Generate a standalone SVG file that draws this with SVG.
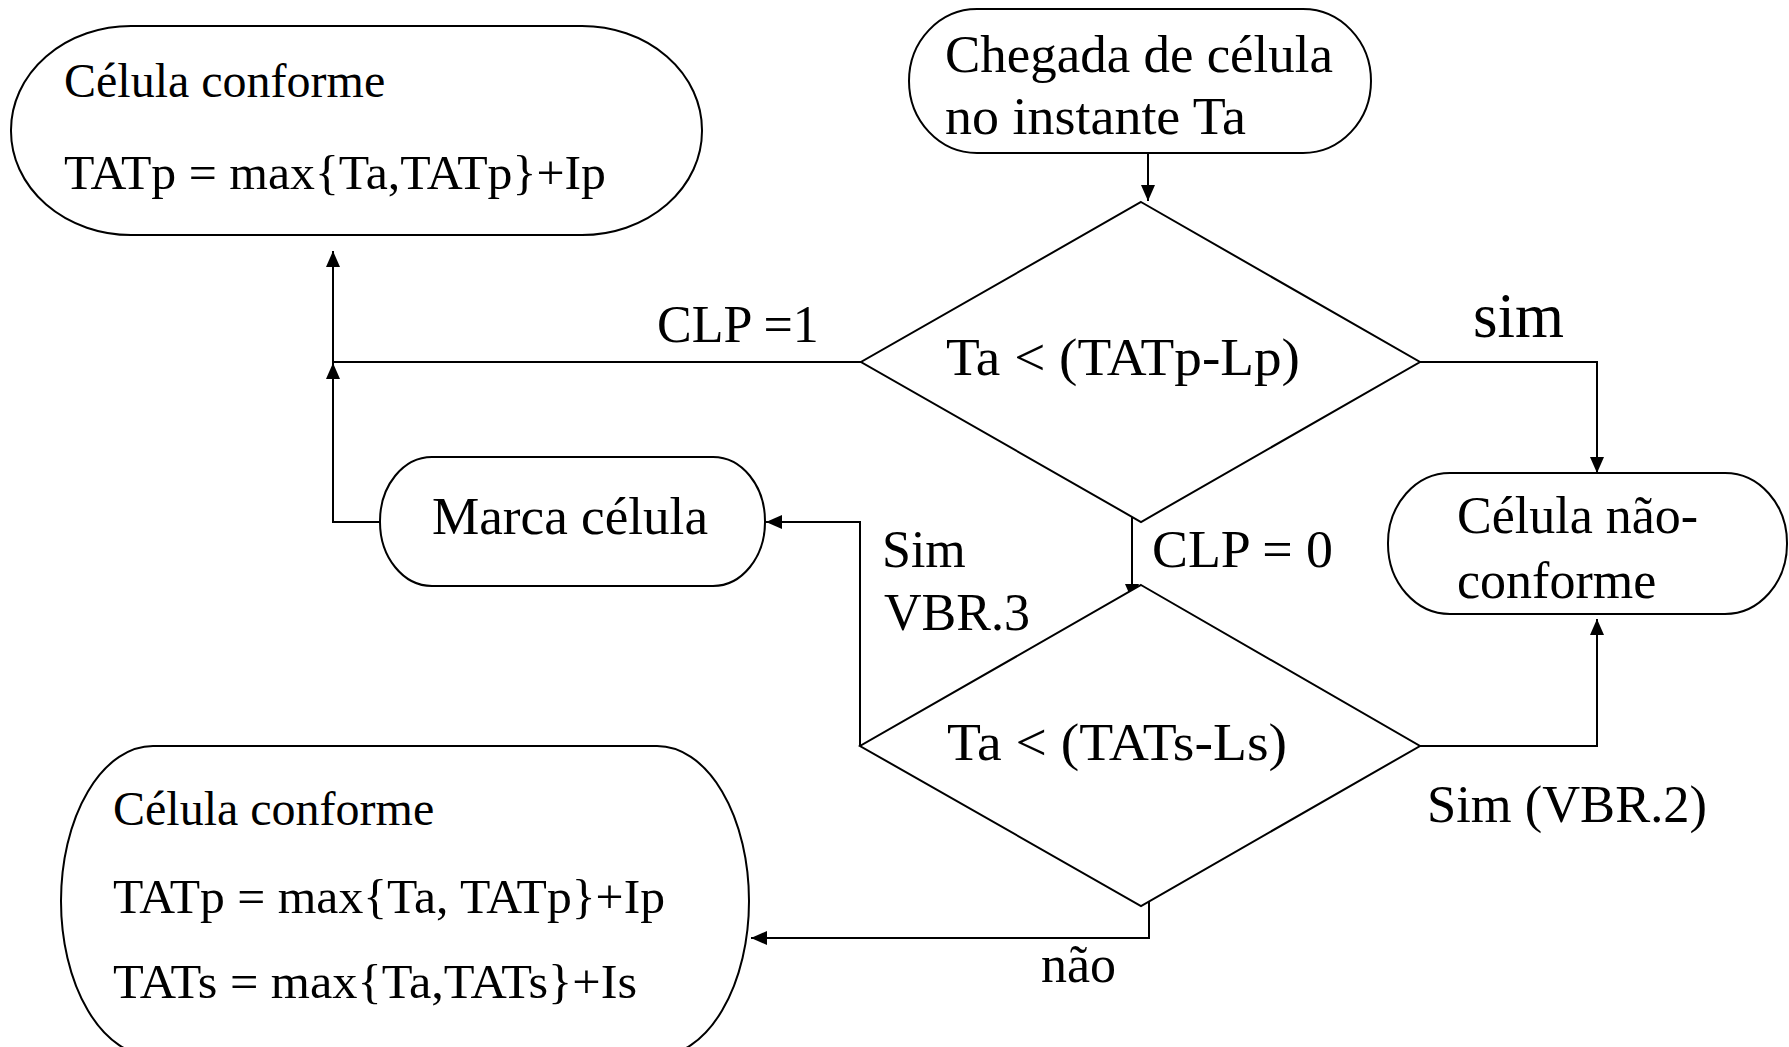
<svg xmlns="http://www.w3.org/2000/svg" width="1789" height="1047" viewBox="0 0 1789 1047">
  <style>
    .node { fill: #ffffff; stroke: #000000; stroke-width: 2; }
    .dec { fill: #ffffff; stroke: #000000; stroke-width: 2; }
    .edge { fill: none; stroke: #000000; stroke-width: 2; }
    text { font-family: "Liberation Serif", "Times New Roman", serif; fill: #000000; }
    .t48 { font-size: 48px; }
    .t52 { font-size: 52px; }
    .t63 { font-size: 63px; }
  </style>
  <defs>
    <marker id="arrow" viewBox="0 0 16 14" refX="16" refY="7" markerWidth="16" markerHeight="14" markerUnits="userSpaceOnUse" orient="auto">
      <path d="M0,0 L16,7 L0,14 Z" fill="#000000"/>
    </marker>
  </defs>

  <rect width="1789" height="1047" fill="#ffffff"/>

  <!-- connectors -->
  <g id="connectors">
    <path class="edge" d="M1148,153 V201" marker-end="url(#arrow)"/>
    <path class="edge" d="M861,362 H333 V251" marker-end="url(#arrow)"/>
    <path class="edge" d="M380,522 H333 V363" marker-end="url(#arrow)"/>
    <path class="edge" d="M1420,362 H1597 V473" marker-end="url(#arrow)"/>
    <path class="edge" d="M1132,517 V600" marker-end="url(#arrow)"/>
    <path class="edge" d="M860,746 V522 H766" marker-end="url(#arrow)"/>
    <path class="edge" d="M1420,746 H1597 V619" marker-end="url(#arrow)"/>
    <path class="edge" d="M1149,901 V938 H751" marker-end="url(#arrow)"/>
  </g>

  <!-- connector labels -->
  <g id="labels">
    <text class="t52" x="657" y="342">CLP =1</text>
    <text class="t63" x="1473" y="337">sim</text>
    <text class="t52" x="1152" y="567" textLength="181" lengthAdjust="spacingAndGlyphs">CLP = 0</text>
    <text class="t52" x="882" y="567">Sim</text>
    <text class="t52" x="884" y="630">VBR.3</text>
    <text class="t52" x="1427" y="822" textLength="280" lengthAdjust="spacingAndGlyphs">Sim (VBR.2)</text>
    <text class="t52" x="1041" y="982">não</text>
  </g>

  <g id="conforme-top">
    <rect class="node" x="11" y="26" width="691" height="209" rx="120" ry="104"/>
    <text class="t48" x="64" y="97">Célula conforme</text>
    <text class="t48" x="64" y="189" textLength="542" lengthAdjust="spacingAndGlyphs">TATp = max{Ta,TATp}+Ip</text>
  </g>

  <g id="chegada">
    <rect class="node" x="909" y="9" width="462" height="144" rx="68" ry="72"/>
    <text class="t52" x="945" y="72" textLength="388" lengthAdjust="spacingAndGlyphs">Chegada de célula</text>
    <text class="t52" x="945" y="134" textLength="301" lengthAdjust="spacingAndGlyphs">no instante Ta</text>
  </g>

  <g id="teste-tatp">
    <polygon class="dec" points="1141,202 1420,362 1141,522 861,362"/>
    <text class="t52" x="946" y="375" textLength="354" lengthAdjust="spacingAndGlyphs">Ta &lt; (TATp-Lp)</text>
  </g>

  <g id="marca-celula">
    <rect class="node" x="380" y="457" width="385" height="129" rx="52" ry="64"/>
    <text class="t52" x="432" y="534" textLength="276" lengthAdjust="spacingAndGlyphs">Marca célula</text>
  </g>

  <g id="nao-conforme">
    <rect class="node" x="1388" y="473" width="399" height="141" rx="62" ry="70"/>
    <text class="t52" x="1457" y="533">Célula não-</text>
    <text class="t52" x="1457" y="598">conforme</text>
  </g>

  <g id="teste-tats">
    <polygon class="dec" points="1141,585 1420,746 1141,906 860,746"/>
    <text class="t52" x="947" y="760" textLength="340" lengthAdjust="spacingAndGlyphs">Ta &lt; (TATs-Ls)</text>
  </g>

  <g id="conforme-bottom">
    <rect class="node" x="61" y="746" width="688" height="310" rx="92" ry="155"/>
    <text class="t48" x="113" y="825">Célula conforme</text>
    <text class="t48" x="113" y="913" textLength="552" lengthAdjust="spacingAndGlyphs">TATp = max{Ta, TATp}+Ip</text>
    <text class="t48" x="113" y="998" textLength="524" lengthAdjust="spacingAndGlyphs">TATs = max{Ta,TATs}+Is</text>
  </g>
</svg>
